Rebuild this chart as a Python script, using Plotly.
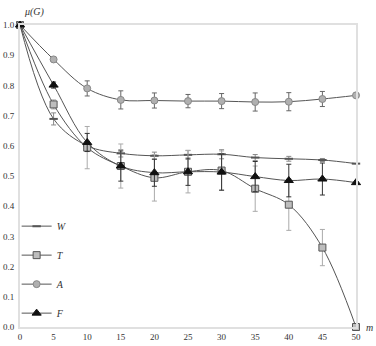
import plotly.graph_objects as go

m_values = [0, 5, 10, 15, 20, 25, 30, 35, 40, 45, 50]

W_mean = [1.0, 0.689, 0.600, 0.575, 0.567, 0.570, 0.572, 0.561, 0.557, 0.553, 0.541]
W_err = [0.0, 0.02, 0.015, 0.012, 0.012, 0.015, 0.015, 0.01, 0.008, 0.005, 0.0]

T_mean = [1.0, 0.737, 0.594, 0.533, 0.494, 0.514, 0.518, 0.458, 0.405, 0.263, 0.0]
T_err = [0.0, 0.015, 0.07, 0.073, 0.077, 0.07, 0.065, 0.075, 0.085, 0.06, 0.0]

A_mean = [1.0, 0.886, 0.790, 0.752, 0.750, 0.748, 0.748, 0.745, 0.746, 0.755, 0.767]
A_err = [0.0, 0.006, 0.025, 0.03, 0.025, 0.022, 0.025, 0.03, 0.03, 0.025, 0.0]

F_mean = [1.0, 0.801, 0.611, 0.533, 0.511, 0.514, 0.513, 0.498, 0.485, 0.490, 0.478]
F_err = [0.0, 0.01, 0.03, 0.05, 0.045, 0.045, 0.06, 0.05, 0.054, 0.053, 0.0]

y_ticks = [0.0, 0.1, 0.2, 0.3, 0.4, 0.5, 0.6, 0.7, 0.8, 0.9, 1.0]
x_ticks = m_values

FONT = "Liberation Serif"

series = [
    ("W", W_mean, W_err, dict(symbol="line-ew-open", size=6, color="#555", line=dict(color="#444", width=2)), "#888"),
    ("T", T_mean, T_err, dict(symbol="square", size=7, color="#bdbdbd", line=dict(color="#555", width=1)), "#aaa"),
    ("A", A_mean, A_err, dict(symbol="circle", size=7, color="#b0b0b0", line=dict(color="#888", width=1)), "#666"),
    ("F", F_mean, F_err, dict(symbol="triangle-up", size=8, color="#111", line=dict(color="#111", width=1)), "#333"),
]

fig = go.Figure()
for name, ys, errs, marker, ecol in series:
    fig.add_trace(go.Scatter(
        x=m_values, y=ys, name=f"<i>{name}</i>", mode="lines+markers",
        line=dict(color="#555", width=1, shape="spline", smoothing=1),
        marker=marker, cliponaxis=False, legendgroup=name,
        error_y=dict(type="data", array=errs, visible=True, color=ecol, thickness=1, width=2.5),
    ))

fig.update_layout(
    width=376, height=346,
    margin=dict(l=20, r=20, t=25, b=19),
    plot_bgcolor="white", paper_bgcolor="white",
    font=dict(family=FONT, size=9, color="#333"),
    showlegend=True,
    legend=dict(x=-0.01, y=0.382, xanchor="left", yanchor="top", bgcolor="rgba(0,0,0,0)",
                font=dict(family=FONT, size=10, color="#333"), tracegroupgap=10,
                itemwidth=30),
    xaxis=dict(range=[0, 50], tickvals=x_ticks, showgrid=False, zeroline=False, automargin=False,
               showline=True, mirror=True, linecolor="#e0e0e0", linewidth=2,
               ticks="", tickfont=dict(family=FONT, size=9, color="#333")),
    yaxis=dict(range=[0, 1.0], tickvals=y_ticks, tickformat=".1f", showgrid=False, zeroline=False,
               automargin=False,
               showline=True, mirror=True, linecolor="#e0e0e0", linewidth=2,
               ticks="", ticklabelstandoff=2, tickfont=dict(family=FONT, size=9, color="#333")),
    annotations=[
        dict(text="<i>μ(G)</i>", xref="paper", yref="paper", x=0.0, y=1.0, xshift=14, yshift=13,
             xanchor="center", yanchor="middle", showarrow=False,
             font=dict(family=FONT, size=10, color="#333")),
        dict(text="<i>m</i>", xref="paper", yref="paper", x=1.0, y=0.0, xshift=8,
             xanchor="left", yanchor="middle", showarrow=False,
             font=dict(family=FONT, size=10, color="#333")),
    ],
)

fig.write_html("out.html", config={"displayModeBar": False},
               post_script="document.body.style.margin='0';")
